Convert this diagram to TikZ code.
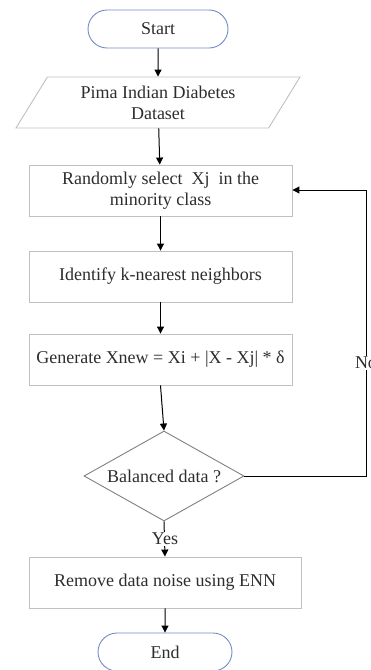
\documentclass[tikz,border=0pt]{standalone}
\usepackage{fontspec}
\setmainfont{Liberation Serif}
\usetikzlibrary{arrows.meta,shapes.geometric,shapes.misc}

\definecolor{termblue}{RGB}{112,140,196}
\definecolor{boxgray}{RGB}{192,192,192}
\definecolor{txtgray}{RGB}{45,45,45}

\begin{document}
\begin{tikzpicture}[x=1pt, y=-1pt,
  every node/.style={font=\fontsize{18}{21}\selectfont, text=txtgray, align=center, inner sep=0pt},
  terminal/.style={draw=termblue, line width=0.9pt, rounded rectangle, minimum width=140pt, minimum height=38pt},
  iobox/.style={draw=boxgray, line width=0.9pt, trapezium, trapezium left angle=47, trapezium right angle=133,
    trapezium stretches body, minimum width=284pt, minimum height=51pt},
  procbox/.style={draw=boxgray, line width=0.9pt, rectangle, minimum width=263pt, minimum height=51pt},
  decision/.style={draw=gray, line width=0.9pt, diamond, aspect=1.78, minimum width=160pt, minimum height=90pt},
  flow/.style={-{Triangle[length=7pt,width=7pt]}, line width=1pt}]

  \useasboundingbox (0,0) rectangle (370,670);
  \clip (0,0) rectangle (370,670);

  % Start and input data
  \node[terminal] (start) at (158,29) {Start};
  \node[iobox] (data) at (158,102.5) {Pima Indian Diabetes\\Dataset};

  % Oversampling steps
  \node[procbox] (select) at (160.5,190.5) {Randomly select~ Xj~ in the\\minority class};
  \node[procbox] (knn) at (160.5,276.5) {Identify k-nearest neighbors};
  \node[procbox] (gen) at (160.5,359.5) {Generate Xnew = Xi + |X - Xj| * δ};

  % Balance check
  \node[decision] (bal) at (164,476) {Balanced data ?};

  % Cleaning and end
  \node[procbox, minimum width=272pt] (enn) at (165,582.5) {Remove data noise using ENN};
  \node[terminal, minimum width=134pt] (end) at (165,652) {End};

  % Main flow
  \draw[flow] (start) -- (data);
  \draw[flow] (data) -- (select);
  \draw[flow] (select) -- (knn);
  \draw[flow] (knn) -- (gen);
  \draw[flow] (gen.south) -- (bal.north);
  \draw[flow] (bal.south) -- (enn.north);
  \draw[flow] (enn) -- (end);
  \node[fill=white, inner sep=1pt] (yes) at (165,539) {Yes};

  % Loop back when not balanced
  \coordinate (back) at (366,190);
  \draw[flow] (bal.east) -| (back) -- (select.east |- back);
  \node[fill=white, inner sep=1pt] (no) at (366,363) {No};
\end{tikzpicture}
\end{document}
